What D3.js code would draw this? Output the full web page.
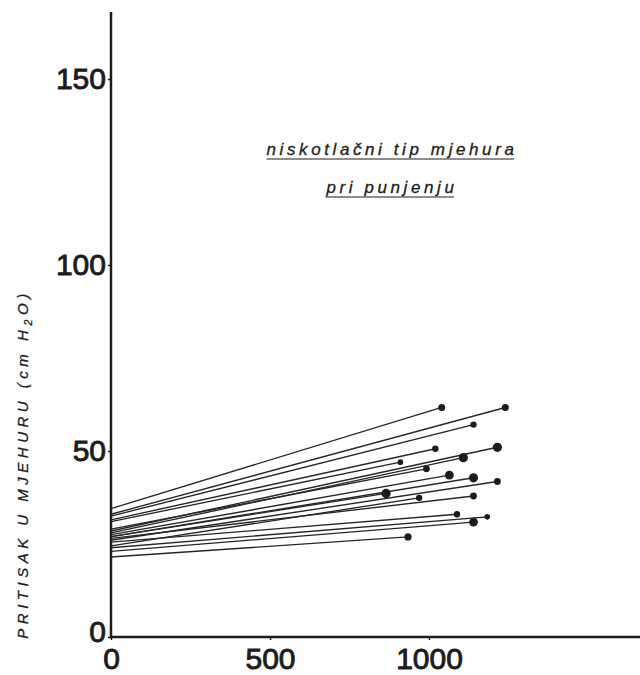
<!DOCTYPE html>
<html><head><meta charset="utf-8">
<script src="https://cdn.jsdelivr.net/npm/d3@7"></script>
<style>body{margin:0;background:#fff}</style>
</head><body>
<svg id="c" width="640" height="675"></svg>
<script>
// Data: each line starts on the y-axis (volume 0) and ends at a dot
const startPressure = [34.5, 33.0, 32.5, 31.5, 28.5, 28.0, 31.0, 29.0, 27.5, 27.0, 26.0, 27.0, 24.5, 26.5, 25.5, 24.0, 23.0, 21.5];
const endVolume     = [1040, 1240, 1140, 1020, 1215, 1108, 910, 992, 1064, 1140, 1215, 865, 969, 1140, 1088, 1183, 1140, 934];
const endPressure   = [61.7, 61.7, 57.1, 50.6, 51.0, 48.2, 47.0, 45.2, 43.5, 42.8, 41.8, 38.6, 37.4, 37.9, 33.0, 32.3, 30.9, 26.9];
const dotSize       = [3.5, 3.5, 3.2, 3.2, 4.6, 4.6, 2.8, 3.4, 4.4, 4.6, 3.4, 4.6, 3.2, 3.4, 3.2, 2.8, 4.4, 3.6];
const xTicks = [0, 500, 1000];
const yTicks = [0, 50, 100, 150];
const title1 = "niskotlačni tip mjehura";
const title2 = "pri punjenju";

const svg = d3.select("#c");
const x = d3.scaleLinear().domain([0, 1000]).range([111, 429]);
const y = d3.scaleLinear().domain([0, 150]).range([637, 79]);
const ink = "#1c1c1c";

// lines
const data = startPressure.map((s, i) => ({s, vx: endVolume[i], vy: endPressure[i], r: dotSize[i]}));
svg.append("g").selectAll("line").data(data).join("line")
  .attr("x1", x(0)).attr("y1", d => y(d.s))
  .attr("x2", d => x(d.vx)).attr("y2", d => y(d.vy))
  .attr("stroke", "#262626").attr("stroke-width", 1.35);
svg.append("g").selectAll("circle").data(data).join("circle")
  .attr("cx", d => x(d.vx)).attr("cy", d => y(d.vy)).attr("r", d => d.r)
  .attr("fill", ink);

// axes
const fontFam = "'Liberation Sans', Arial, sans-serif";
const styleTick = sel => sel.attr("fill", ink).attr("stroke", ink).attr("stroke-width", 0.9)
  .style("font-family", fontFam).style("font-size", "30px");
const yAxis = svg.append("g").attr("transform", `translate(${x(0)},0)`)
  .call(d3.axisLeft(y).tickValues(yTicks).tickSize(3).tickPadding(2).tickFormat(d3.format("d")));
yAxis.select(".domain").remove();
yAxis.append("line").attr("x1", 0).attr("x2", 0).attr("y1", 12).attr("y2", y(0) + 1)
  .attr("stroke", ink).attr("stroke-width", 2.5);
yAxis.selectAll(".tick line").attr("stroke", ink).attr("stroke-width", 1.5);
yAxis.selectAll(".tick text").call(styleTick);
yAxis.selectAll(".tick").filter(d => d === 0).select("text").attr("dy", "0.15em");

const xAxis = svg.append("g").attr("transform", `translate(0,${y(0)})`)
  .call(d3.axisBottom(x).tickValues(xTicks).tickSize(3).tickPadding(8).tickFormat(d3.format("d")));
xAxis.select(".domain").remove();
xAxis.append("line").attr("x1", x(0) - 1).attr("x2", 640).attr("y1", 0).attr("y2", 0)
  .attr("stroke", ink).attr("stroke-width", 2.5);
xAxis.selectAll(".tick line").attr("stroke", ink).attr("stroke-width", 1.5);
xAxis.selectAll(".tick text").call(styleTick);

// y-axis title
const yl = svg.append("text")
  .attr("transform", "translate(28,464) rotate(-90)")
  .attr("text-anchor", "middle")
  .style("font-family", fontFam).style("font-style", "italic")
  .style("font-size", "15px").style("letter-spacing", "4.5px")
  .attr("fill", ink).attr("stroke", ink).attr("stroke-width", 0.3);
yl.append("tspan").text("PRITISAK U MJEHURU (cm H");
yl.append("tspan").attr("dy", 4).style("font-size", "11px").text("2");
yl.append("tspan").attr("dy", -4).text("O)");

// title
[[title1, 155], [title2, 193]].forEach(([t, ty]) => {
  const tx = svg.append("text").attr("x", 392).attr("y", ty).attr("text-anchor", "middle")
    .style("font-family", fontFam).style("font-style", "italic").style("font-size", "17px")
    .style("letter-spacing", "3.6px").attr("fill", ink).attr("stroke", ink).attr("stroke-width", 0.3).text(t);
  const bb = tx.node().getBBox();
  svg.append("line").attr("x1", bb.x).attr("x2", bb.x + bb.width - 3.6)
    .attr("y1", ty + 4).attr("y2", ty + 4).attr("stroke", ink).attr("stroke-width", 1.2);
});
</script>
</body></html>
